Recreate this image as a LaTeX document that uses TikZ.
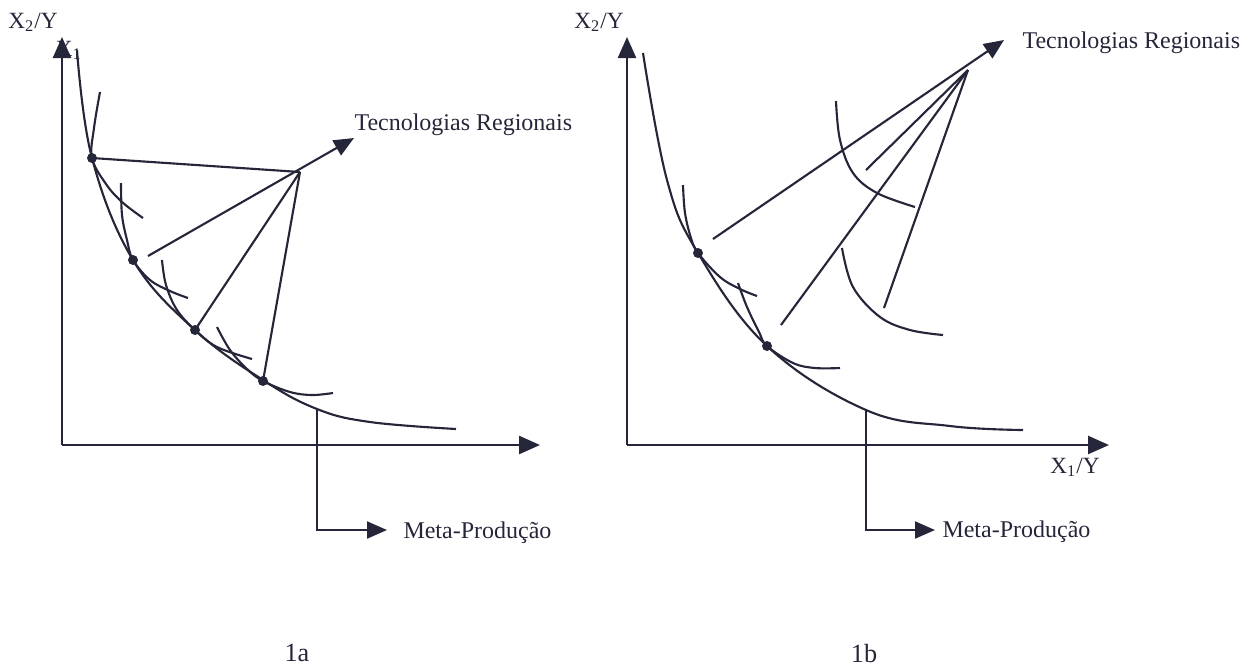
\documentclass[tikz,border=0pt]{standalone}
\usepackage{fontspec}
\setmainfont{Liberation Serif}
\usetikzlibrary{arrows.meta}
\definecolor{ink}{RGB}{38,38,58}
\begin{document}
\begin{tikzpicture}[x=0.4pt,y=-0.4pt,
  curve/.style={draw=ink,line width=0.85pt},
  ray/.style={draw=ink,line width=0.85pt},
  axis/.style={draw=ink,line width=1pt,-{Triangle[length=8.4pt,width=7.2pt]}},
  arr/.style={draw=ink,line width=0.85pt,-{Triangle[length=8pt,width=6.8pt]}},
  pt/.style={circle,fill=ink,inner sep=0pt,minimum size=4pt},
  lbl/.style={text=ink,font=\fontsize{9.6}{11}\selectfont,inner sep=0pt},
  axlbl/.style={text=ink,font=\fontsize{9.3}{11}\selectfont,inner sep=0pt},
  paneltag/.style={text=ink,font=\fontsize{10.5}{12}\selectfont,inner sep=0pt},
]
\useasboundingbox (0,0) rectangle (1249,669);

% ================= Panel 1a =================
\coordinate (O1) at (62,445);
\coordinate (Y1) at (62,37);
\coordinate (X1) at (540,445);
\node[axlbl] (x1hid) at (69,50) {X\textsubscript{1}};
\draw[axis] (O1) -- (Y1);
\draw[axis] (O1) -- (X1);
\node[axlbl] (ylab1) at (33,22) {X\textsubscript{2}/Y};

% meta-production curve
\draw[curve] plot[smooth,tension=0.65] coordinates {(77,50) (92,158) (133,260) (195,330) (263,380) (317,409) (370,422) (456,429)};
% local curves
\draw[curve] plot[smooth,tension=0.6] coordinates {(100,92) (94,128) (92,158) (106,184) (122,202) (143,218)};
\draw[curve] plot[smooth,tension=0.6] coordinates {(121,183) (122,215) (127,240) (133,260) (150,280) (170,291) (188,298)};
\draw[curve] plot[smooth,tension=0.6] coordinates {(162,260) (166,285) (177,310) (195,330) (217,347) (252,359)};
\draw[curve] plot[smooth,tension=0.6] coordinates {(217,327) (230,350) (247,369) (263,381) (290,392) (312,395) (333,393)};

\node[pt] (a1) at (92,158) {};
\node[pt] (a2) at (133,260) {};
\node[pt] (a3) at (195,330) {};
\node[pt] (a4) at (263,381) {};

\coordinate (T1) at (300,172);
\coordinate (s1) at (148,256);
\coordinate (tip1) at (354,138);
\draw[ray] (T1) -- (a1.center);
\draw[ray] (T1) -- (a3.center);
\draw[ray] (T1) -- (a4.center);
\draw[arr] (s1) -- (tip1);
\node[lbl,anchor=west] (tec1) at (354,125) {Tecnologias Regionais};

\coordinate (m1) at (317,409);
\coordinate (m1b) at (317,530);
\coordinate (m1t) at (387,530);
\draw[arr] (m1) -- (m1b) -- (m1t);
\node[lbl,anchor=west] (meta1) at (403,533) {Meta-Produção};

\node[paneltag] (c1a) at (297,653) {1a};

% ================= Panel 1b =================
\coordinate (O2) at (627,445);
\coordinate (Y2) at (627,37);
\coordinate (X2) at (1109,445);
\draw[axis] (O2) -- (Y2);
\draw[axis] (O2) -- (X2);
\node[axlbl] (ylab2) at (599,22) {X\textsubscript{2}/Y};
\node[axlbl] (xlab2) at (1075,467) {X\textsubscript{1}/Y};

\draw[curve] plot[smooth,tension=0.65] coordinates {(643,53) (667,180) (698,253) (767,346) (866,410) (950,426) (1023,430)};
% local curves
\draw[curve] plot[smooth,tension=0.6] coordinates {(683,185) (685,213) (691,238) (698,253) (720,277) (740,289) (757,296)};
\draw[curve] plot[smooth,tension=0.6] coordinates {(738,283) (747,307) (759,332) (767,346) (793,363) (815,368) (840,368)};
\draw[curve] plot[smooth,tension=0.6] coordinates {(836,101) (840,140) (853,173) (877,193) (915,207)};
\draw[curve] plot[smooth,tension=0.6] coordinates {(842,248) (853,287) (880,317) (910,330) (943,335)};

\node[pt] (b1) at (698,253) {};
\node[pt] (b2) at (767,346) {};

\coordinate (T2) at (968,70);
\coordinate (s2) at (713,239);
\coordinate (tip2) at (1004,40);
\coordinate (r1) at (866,170);
\coordinate (r2) at (781,325);
\coordinate (r3) at (884,308);
\draw[ray] (T2) -- (r1);
\draw[ray] (T2) -- (r2);
\draw[ray] (T2) -- (r3);
\draw[arr] (s2) -- (tip2);
\node[lbl,anchor=west] (tec2) at (1022,43) {Tecnologias Regionais};

\coordinate (m2) at (866,410);
\coordinate (m2b) at (866,530);
\coordinate (m2t) at (935,530);
\draw[arr] (m2) -- (m2b) -- (m2t);
\node[lbl,anchor=west] (meta2) at (942,532) {Meta-Produção};

\node[paneltag] (c1b) at (864,654) {1b};
\end{tikzpicture}
\end{document}
